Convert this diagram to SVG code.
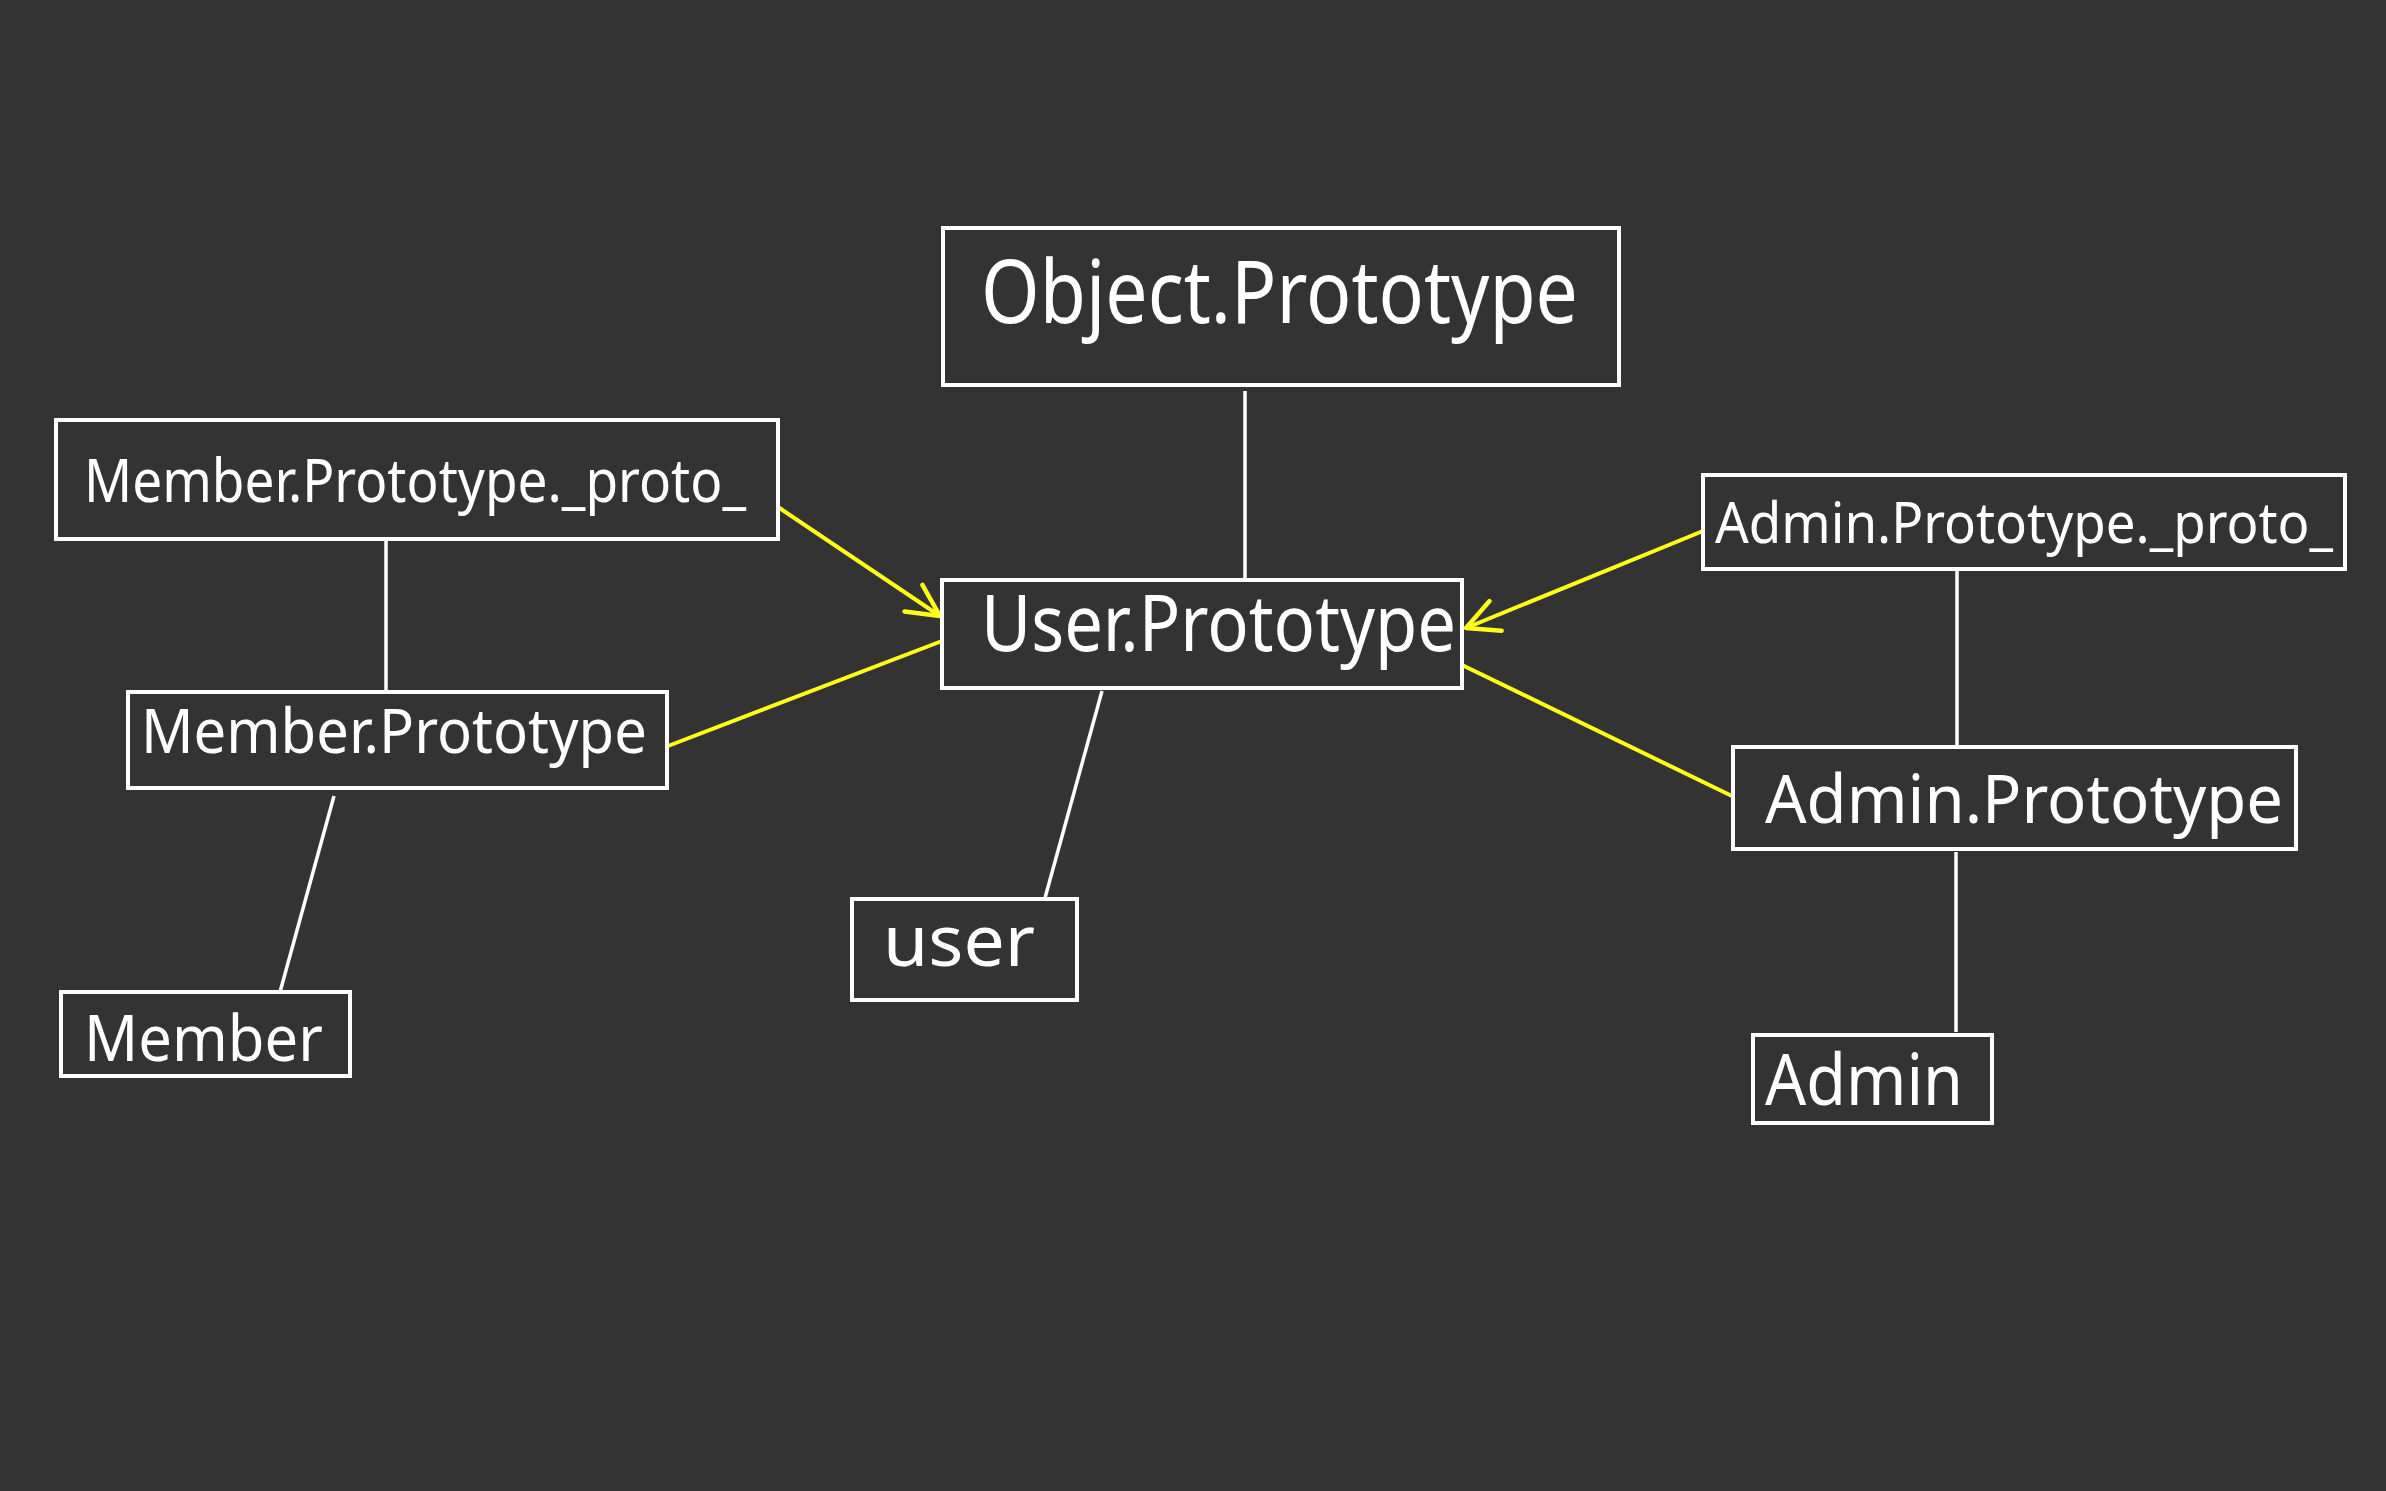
<svg xmlns="http://www.w3.org/2000/svg" width="2386" height="1491" viewBox="0 0 2386 1491">
<style>
.box{fill:none;stroke:#ffffff;stroke-width:4}
.lbl{fill:#ffffff;font-family:"Noto Sans","Liberation Sans",sans-serif;font-weight:400}
.wline{stroke:#ffffff;stroke-width:3.5;fill:none}
.yline{stroke:#ffff1a;stroke-width:4;fill:none}
</style>
<defs>
<marker id="arr" viewBox="0 0 40 40" refX="36" refY="20" markerWidth="40" markerHeight="40" markerUnits="userSpaceOnUse" orient="auto">
<path d="M4,4 L36,20 L4,36" fill="none" stroke="#ffff1a" stroke-width="4.5" stroke-linecap="round" stroke-linejoin="round"/>
</marker>
</defs>
<rect width="2386" height="1491" fill="#333333"/>
<g id="connectors">
<line class="wline" x1="1245" y1="391" x2="1245" y2="578"/>
<line class="wline" x1="386" y1="539" x2="386" y2="692"/>
<line class="wline" x1="334" y1="796" x2="280" y2="992"/>
<line class="wline" x1="1102" y1="691" x2="1045" y2="898"/>
<line class="wline" x1="1957" y1="569" x2="1957" y2="747"/>
<line class="wline" x1="1956" y1="852" x2="1956" y2="1032"/>
<line class="yline" x1="778" y1="507" x2="940" y2="616" marker-end="url(#arr)"/>
<line class="yline" x1="668" y1="746" x2="942" y2="641"/>
<line class="yline" x1="1703" y1="531" x2="1466" y2="628" marker-end="url(#arr)"/>
<line class="yline" x1="1732" y1="796" x2="1462" y2="665"/>
</g>
<g id="object-prototype">
<rect class="box" x="943" y="228" width="676" height="157"/>
<text class="lbl" x="981" y="323" font-size="88" textLength="597" lengthAdjust="spacingAndGlyphs">Object.Prototype</text>
</g>
<g id="user-prototype">
<rect class="box" x="942" y="580" width="520" height="108"/>
<text class="lbl" x="981" y="651" font-size="78" textLength="475" lengthAdjust="spacingAndGlyphs">User.Prototype</text>
</g>
<g id="member-prototype-proto">
<rect class="box" x="56" y="420" width="722" height="119"/>
<text class="lbl" x="84" y="502" font-size="60" textLength="662" lengthAdjust="spacingAndGlyphs">Member.Prototype._proto_</text>
</g>
<g id="member-prototype">
<rect class="box" x="128" y="692" width="539" height="96"/>
<text class="lbl" x="141" y="753" font-size="62" textLength="506" lengthAdjust="spacingAndGlyphs">Member.Prototype</text>
</g>
<g id="member">
<rect class="box" x="61" y="992" width="289" height="84"/>
<text class="lbl" x="84" y="1061" font-size="64" textLength="239" lengthAdjust="spacingAndGlyphs">Member</text>
</g>
<g id="user">
<rect class="box" x="852" y="899" width="225" height="101"/>
<text class="lbl" x="883" y="966" font-size="72" textLength="152" lengthAdjust="spacingAndGlyphs">user</text>
</g>
<g id="admin-prototype-proto">
<rect class="box" x="1703" y="475" width="642" height="94"/>
<text class="lbl" x="1715" y="543" font-size="56" textLength="618" lengthAdjust="spacingAndGlyphs">Admin.Prototype._proto_</text>
</g>
<g id="admin-prototype">
<rect class="box" x="1733" y="747" width="563" height="102"/>
<text class="lbl" x="1765" y="823" font-size="68" textLength="518" lengthAdjust="spacingAndGlyphs">Admin.Prototype</text>
</g>
<g id="admin">
<rect class="box" x="1753" y="1035" width="239" height="88"/>
<text class="lbl" x="1765" y="1105" font-size="72" textLength="198" lengthAdjust="spacingAndGlyphs">Admin</text>
</g>
</svg>
